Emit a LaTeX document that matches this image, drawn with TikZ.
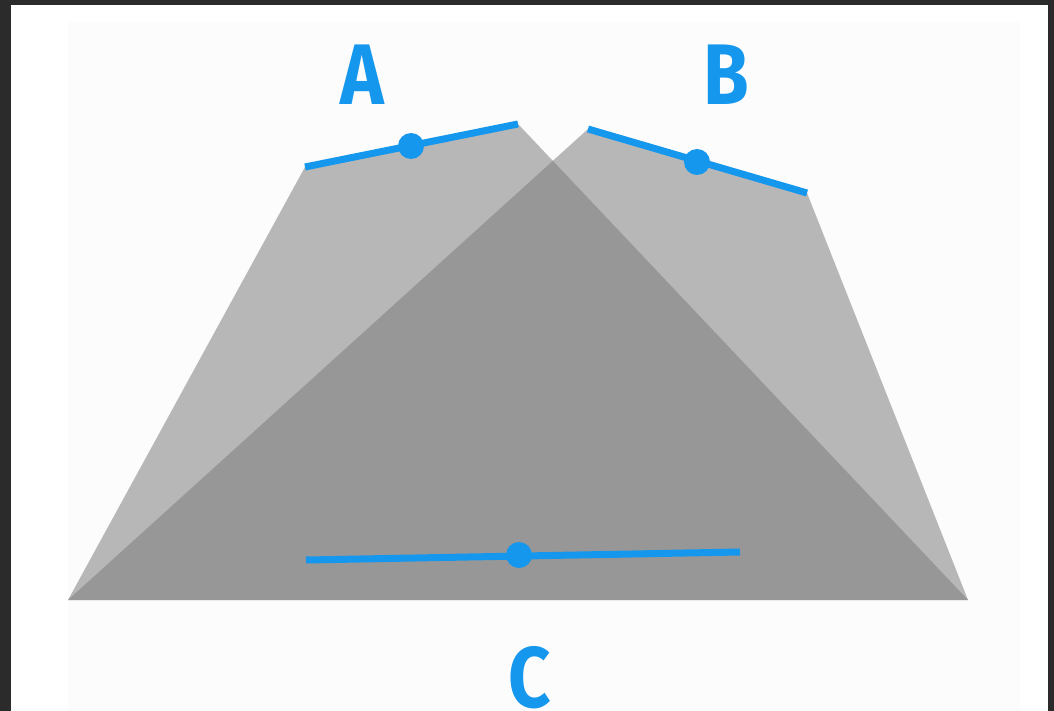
\documentclass[tikz,border=0pt]{standalone}
\usepackage{fontspec}
\newfontfamily\labfont{Fira Sans}[UprightFont=* Bold]
\definecolor{frame}{HTML}{2B2B2B}
\definecolor{panel}{HTML}{FCFCFC}
\definecolor{shade}{HTML}{7B7B7B}
\definecolor{accent}{HTML}{1597EE}
\tikzset{
  facet/.style={fill=shade, fill opacity=0.53, draw=none},
  seg/.style={draw=accent, line width=7pt},
  dot/.style={circle, fill=accent, inner sep=0pt, minimum size=26pt},
  lab/.style={text=accent, font=\labfont\fontsize{86}{86}\selectfont, inner sep=0pt, xscale=0.86, anchor=north}
}
\begin{document}
\begin{tikzpicture}[x=1pt,y=-1pt]
\useasboundingbox (0,0) rectangle (1054,711);
\clip (0,0) rectangle (1054,711);
\fill[frame] (0,0) rectangle (1054,711);
\fill[white] (11,5) rectangle (1048,711);
\fill[panel] (68,22) rectangle (1020,711);
% facets
\coordinate (bl) at (68,600);
\coordinate (br) at (968,600);
\coordinate (a1) at (305,167);
\coordinate (a2) at (518,124);
\coordinate (b1) at (588,129);
\coordinate (b2) at (807,193);
\coordinate (c1) at (306,560);
\coordinate (c2) at (740,552);
\path[facet] (bl) -- (a1) -- (a2) -- (br) -- cycle;
\path[facet] (br) -- (b2) -- (b1) -- (bl) -- cycle;
% segments
\draw[seg] (a1) -- (a2);
\draw[seg] (b1) -- (b2);
\draw[seg] (c1) -- (c2);
\node[dot] (da) at (411,146) {};
\node[dot] (db) at (697,162) {};
\node[dot] (dc) at (519,555) {};
% labels
\node[lab] (la) at (362,45) {A};
\node[lab] (lb) at (726,45) {B};
\node[lab] (lc) at (530,646) {C};
\end{tikzpicture}
\end{document}
